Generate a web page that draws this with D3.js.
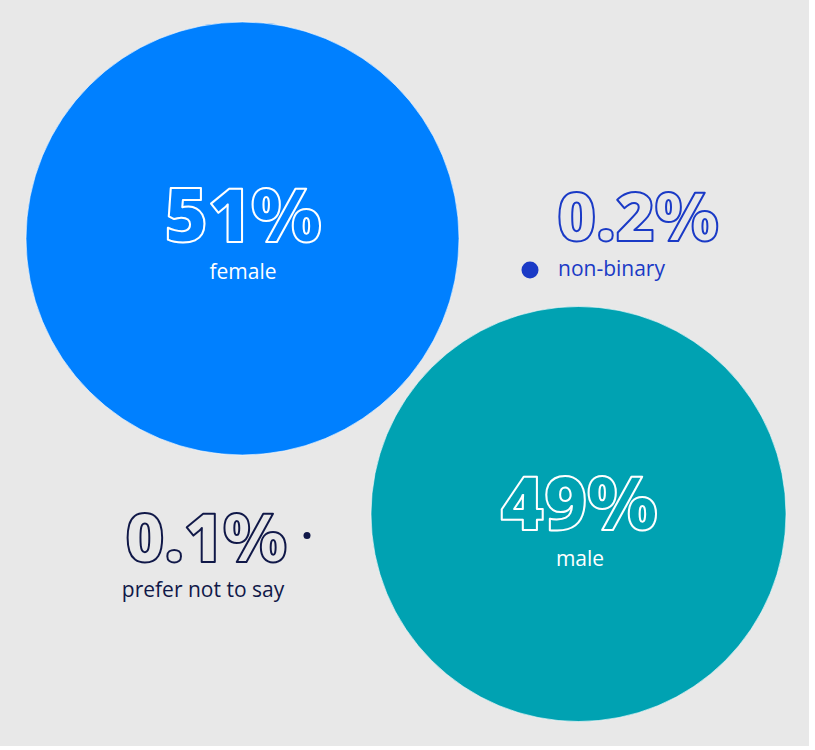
<!DOCTYPE html>
<html>
<head>
<meta charset="utf-8">
<script src="https://cdn.jsdelivr.net/npm/d3@7"></script>
<style>
  html, body { margin: 0; padding: 0; background: #ffffff; }
  svg { display: block; }
  text { font-family: "Open Sans", sans-serif; }
</style>
</head>
<body>
<svg id="chart" width="815" height="750"></svg>
<script>
// ---- data ----
const categories = ["female", "male", "non-binary", "prefer not to say"];
const shares = [51, 49, 0.2, 0.1];
const valueLabels = ["51%", "49%", "0.2%", "0.1%"];

// ---- layout / styles (not data) ----
const layout = {
  "female":            { cx: 242.5, cy: 238.5, fill: "#0080ff", textColor: "#ffffff", anchor: "middle", tx: 243, lx: 243, numY: 242, labY: 279, numSize: 74 },
  "male":              { cx: 578.5, cy: 514,   fill: "#00a2b2", textColor: "#ffffff", anchor: "middle", tx: 579, lx: 580, numY: 530, labY: 566, numSize: 74 },
  "non-binary":        { cx: 530,   cy: 270,   fill: "#1a3ac6", textColor: "#1a3ac6", anchor: "start",  tx: 557, lx: 558, numY: 241, labY: 276, numSize: 67 },
  "prefer not to say": { cx: 307,   cy: 535.5, fill: "#101848", textColor: "#101848", anchor: "middle", tx: 206, lx: 203, numY: 562, labY: 597, numSize: 67 }
};

const data = categories.map((c, i) => ({ cat: c, value: shares[i], label: valueLabels[i] }));

// radius scale (piecewise, area-like)
const r = d3.scaleLinear()
  .domain([0, 0.1, 0.2, 49, 51])
  .range([0, 3.5, 8.5, 207.5, 216.5]);

const svg = d3.select("#chart");

svg.append("rect").attr("x", 0).attr("y", 0).attr("width", 809).attr("height", 746).attr("fill", "#e8e8e8");

const g = svg.append("g");

g.selectAll("circle.bubble")
  .data(data)
  .join("circle")
  .attr("class", "bubble")
  .attr("cx", d => layout[d.cat].cx)
  .attr("cy", d => layout[d.cat].cy)
  .attr("r", d => r(d.value))
  .attr("fill", d => layout[d.cat].fill)
  .attr("stroke", d => d.value > 1 ? "#ffffff" : "none")
  .attr("stroke-opacity", 0.6)
  .attr("stroke-width", 1);

const labSize = 21;

data.forEach(d => {
  const L = layout[d.cat];
  g.append("text")
    .attr("x", L.tx).attr("y", L.numY)
    .attr("text-anchor", L.anchor)
    .attr("font-size", L.numSize)
    .attr("font-weight", 800)
    .attr("fill", "none")
    .attr("stroke", L.textColor)
    .attr("stroke-width", 2)
    .attr("stroke-linejoin", "round")
    .text(d.label);
  g.append("text")
    .attr("x", L.lx).attr("y", L.labY)
    .attr("text-anchor", L.anchor)
    .attr("font-size", labSize)
    .attr("fill", L.textColor)
    .text(d.cat);
});
</script>
</body>
</html>
